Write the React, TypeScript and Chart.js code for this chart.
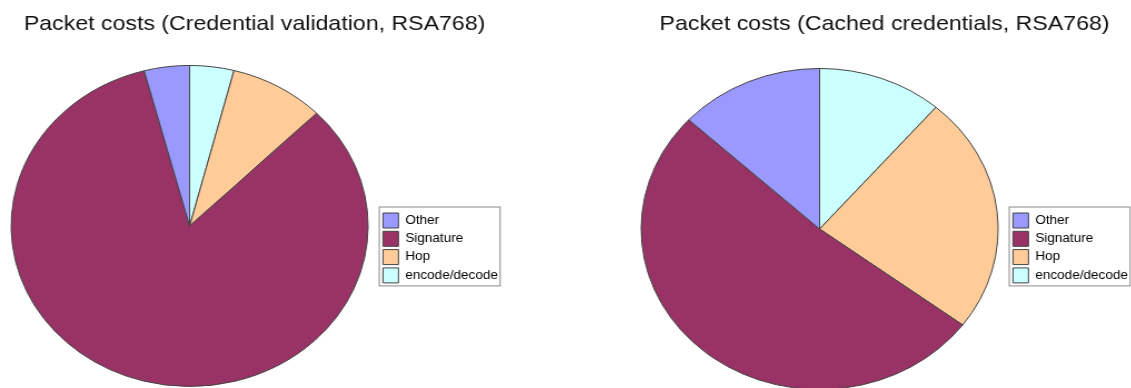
import React, { useEffect, useRef } from "react";
import { Chart, registerables } from "chart.js";

Chart.register(...registerables);

// ---- data (legend order) ----
const categories = ["Other", "Signature", "Hop", "encode/decode"];
const sliceColors = ["#9999ff", "#993366", "#ffcc99", "#ccffff"];
const validationCosts = [4.1, 83.3, 8.6, 4.0];
const cachedCosts = [13.1, 51.7, 23.9, 11.3];
const chartTitles = [
  "Packet costs (Credential validation, RSA768)",
  "Packet costs (Cached credentials, RSA768)",
];

const STRETCH = 1.112;
const FONT = '"Liberation Sans", Arial, sans-serif';

const legendFrame = {
  id: "legendFrame",
  afterDraw(chart: any) {
    const lg = chart.legend;
    if (!lg || !lg.legendHitBoxes || !lg.legendHitBoxes.length) return;
    const pad = lg.options.labels.padding;
    let l = Infinity, t = Infinity, r = -Infinity, b = -Infinity;
    for (const h of lg.legendHitBoxes) {
      l = Math.min(l, h.left);
      t = Math.min(t, h.top);
      r = Math.max(r, h.left + h.width);
      b = Math.max(b, h.top + h.height);
    }
    const ctx = chart.ctx;
    ctx.save();
    ctx.strokeStyle = "#8a8a8a";
    ctx.lineWidth = 1;
    ctx.strokeRect(l - pad, t - 6, r - l + pad + 2, b - t + 9);
    ctx.restore();
  },
};

type PieProps = {
  values: number[];
  title: string;
  left: number;
  height: number;
  titleBottom: number;
  legendTop: number;
};

function PieBox({ values, title, left, height, titleBottom, legendTop }: PieProps) {
  const ref = useRef<HTMLCanvasElement>(null);
  useEffect(() => {
    if (!ref.current) return;
    const chart = new Chart(ref.current, {
      type: "pie",
      data: {
        labels: categories.slice().reverse(),
        datasets: [
          {
            data: values.slice().reverse(),
            backgroundColor: sliceColors.slice().reverse(),
            borderColor: "#444444",
            borderWidth: 1,
          },
        ],
      },
      options: {
        responsive: false,
        animation: false,
        events: [],
        layout: { padding: { left: 0, right: 12.2, top: 0, bottom: 1 } },
        plugins: {
          tooltip: { enabled: false },
          title: {
            display: true,
            text: title,
            color: "#111111",
            font: { family: FONT, size: 20.8, weight: "normal", lineHeight: 1.2 },
            padding: { top: 11.5, bottom: titleBottom },
          },
          legend: {
            position: "right",
            align: "center",
            reverse: true,
            title: {
              display: true,
              text: " ",
              color: "rgba(0,0,0,0)",
              font: { size: 10, lineHeight: 1 },
              padding: { top: legendTop - 10, bottom: 0 },
            },
            labels: {
              boxWidth: 14,
              boxHeight: 15,
              padding: 3.3,
              color: "#000000",
              font: { family: FONT, size: 12.2 },
            },
          },
        },
      } as any,
      plugins: [legendFrame],
    });
    return () => chart.destroy();
  }, []);
  return (
    <div
      style={{
        position: "absolute",
        left,
        top: 0,
        transform: `scaleX(${STRETCH})`,
        transformOrigin: "0 0",
      }}
    >
      <canvas ref={ref} width={470} height={height} style={{ display: "block" }} />
    </div>
  );
}

export default function App() {
  return (
    <div
      style={{
        position: "absolute",
        left: 0,
        top: 0,
        width: 1131,
        height: 388,
        overflow: "hidden",
        background: "#ffffff",
      }}
    >
      <PieBox values={validationCosts} title={chartTitles[0]} left={0} height={388} titleBottom={28.5} legendTop={108.9} />
      <PieBox values={cachedCosts} title={chartTitles[1]} left={630.4} height={391} titleBottom={31.5} legendTop={105.9} />
    </div>
  );
}
